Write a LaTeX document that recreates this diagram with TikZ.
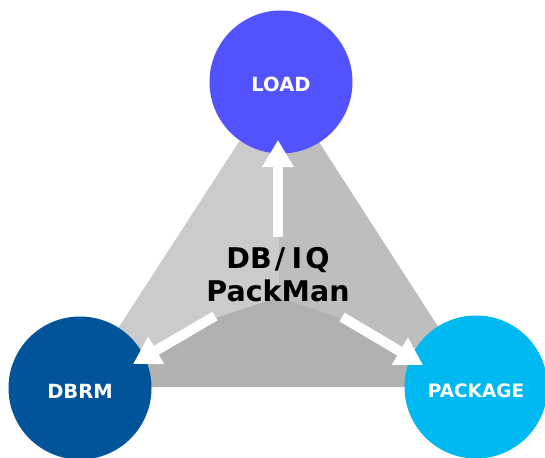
\documentclass[tikz,border=0pt]{standalone}
\usepackage{fontspec}
\setmainfont{DejaVu Sans}
\usetikzlibrary{arrows.meta}
\definecolor{loadc}{HTML}{5252FF}
\definecolor{dbrmc}{HTML}{02549A}
\definecolor{packc}{HTML}{00B9F1}
\definecolor{gleft}{HTML}{CBCBCB}
\definecolor{gright}{HTML}{BEBEBE}
\definecolor{gbot}{HTML}{B1B1B1}
\begin{document}
\begin{tikzpicture}[x=1pt,y=-1pt,
  circ/.style={circle, minimum size=143pt, inner sep=0pt, text=white,
    text height=20pt, text depth=0pt,
    font=\bfseries\fontsize{19.5}{20}\selectfont},
  warrow/.style={draw=white, line width=10pt, -{Triangle[length=27pt,width=30pt]}},
  title/.style={align=center, inner sep=0pt, text=black,
    font=\bfseries\fontsize{28.5}{33}\selectfont}]
\useasboundingbox (0,0) rectangle (545,457);
\coordinate (A) at (279,80);
\coordinate (L) at (80,387);
\coordinate (R) at (477,387);
\coordinate (C) at (279,297);
\coordinate (CL) at (215,318);
\coordinate (CR) at (342,318);
\fill[gleft] (A) -- (C) -- (CL) -- (L) -- cycle;
\fill[gright] (A) -- (C) -- (CR) -- (R) -- cycle;
\fill[gbot] (L) -- (CL) -- (C) -- (CR) -- (R) -- cycle;
\node[circ, fill=loadc] (load) at (281,82) {LOAD};
\node[circ, fill=dbrmc] (dbrm) at (80,388) {DBRM};
\node[circ, fill=packc, font=\bfseries\fontsize{18.5}{20}\selectfont] (pack) at (476,387) {PACKAGE};
\node[title] (pm) at (278,275) {DB\kern3pt/\kern4pt\kern2.5pt I\kern3pt Q\\PackMan};
\coordinate (tailU) at (278,237);
\coordinate (tipU) at (278,140);
\coordinate (tailL) at (215,316);
\coordinate (tipL) at (133,364);
\coordinate (tailR) at (342,317);
\coordinate (tipR) at (423,365);
\draw[warrow] (tailU) -- (tipU);
\draw[warrow] (tailL) -- (tipL);
\draw[warrow] (tailR) -- (tipR);
\end{tikzpicture}
\end{document}
